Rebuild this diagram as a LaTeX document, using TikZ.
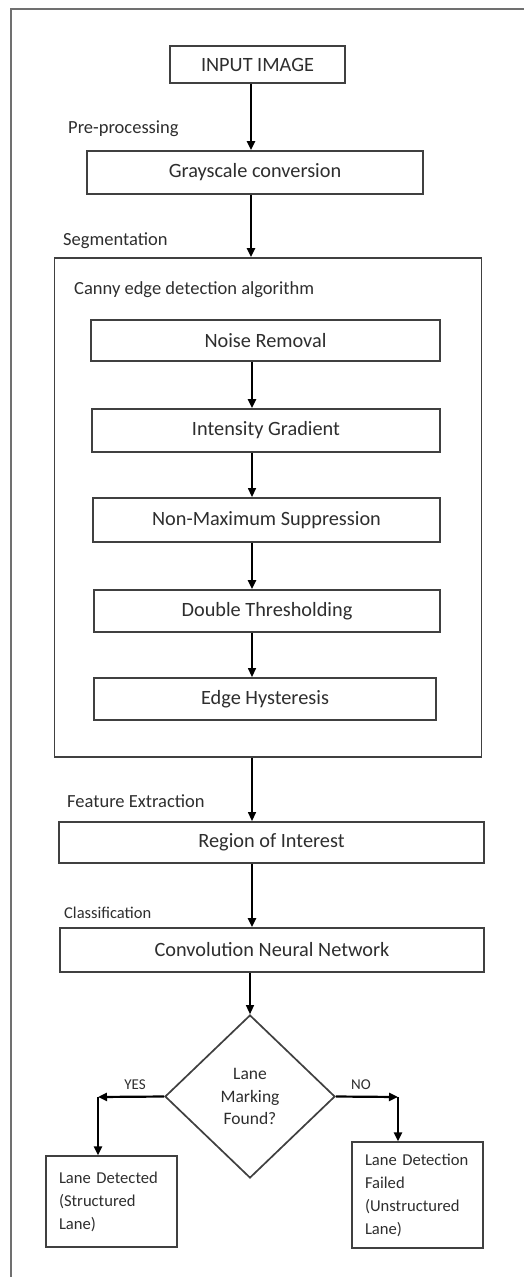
\documentclass[tikz,border=0pt]{standalone}
\usepackage{fontspec}
\setmainfont{Carlito}
\usetikzlibrary{arrows.meta,shapes.geometric}
\definecolor{boxc}{HTML}{404040}
\definecolor{txtc}{HTML}{2E2E2E}
\definecolor{framec}{HTML}{707070}
\begin{document}
\begin{tikzpicture}[x=1pt,y=-1pt,
  box/.style={draw=boxc, line width=1.8pt, inner sep=0pt, text=txtc, font=\fontsize{20.3}{24}\selectfont},
  smallbox/.style={draw=boxc, line width=1.1pt, inner xsep=13pt, inner ysep=0pt, text=txtc, align=left, font=\fontsize{16.6}{23}\selectfont},
  lbl/.style={anchor=west, inner sep=0pt, text=txtc, font=\fontsize{18.5}{21}\selectfont},
  thickarr/.style={line width=2.2pt, -{Triangle[length=9pt,width=8pt]}},
  thinarr/.style={line width=1.3pt, -{Triangle[length=9pt,width=8pt]}}
]
\useasboundingbox (0,0) rectangle (531,1277);
\fill[white] (0,0) rectangle (531,1277);
\draw[framec, line width=1.6pt] (11,1277) -- (11,9) -- (524,9);

\coordinate (ax) at (251,0);
\coordinate (bx) at (252,0);

\node[box, minimum width=175pt, minimum height=37pt] (inp) at (257.5,64.5) {INPUT IMAGE};
\node[lbl] (pre) at (68,129) {Pre-processing};
\node[box, minimum width=336pt, minimum height=43pt] (gray) at (255,172.5) {Grayscale conversion};
\node[lbl] (seg) at (63,241) {Segmentation};
\node[box, minimum width=427pt, minimum height=499pt] (canny) at (268,507.5) {};
\node[lbl] (cannyl) at (74,290) {Canny edge detection algorithm};
\node[box, minimum width=349pt, minimum height=41pt] (noise) at (265.5,340.5) {Noise Removal};
\node[box, minimum width=348pt, minimum height=43pt] (inten) at (266,430.5) {Intensity Gradient};
\node[box, minimum width=347pt, minimum height=44pt] (nms) at (266.5,520) {Non-Maximum Suppression};
\node[box, minimum width=346pt, minimum height=42pt] (dth) at (267,611) {Double Thresholding};
\node[box, minimum width=342pt, minimum height=42pt] (edge) at (265,699) {Edge Hysteresis};
\node[lbl] (feat) at (67,801) {Feature Extraction};
\node[box, minimum width=425pt, minimum height=41pt] (roi) at (271.5,842.5) {Region of Interest};
\node[lbl, font=\fontsize{16.5}{19}\selectfont] (cls) at (64,913) {Classification};
\node[box, minimum width=424pt, minimum height=44pt] (cnn) at (272,950) {Convolution Neural Network};
\node[diamond, draw=boxc, line width=1.7pt, inner sep=0pt, minimum width=170pt, minimum height=163pt, text=txtc, align=center, font=\fontsize{17.5}{22.5}\selectfont] (dia) at (250,1096.5) {Lane\\Marking\\Found?};
\node[smallbox, minimum width=131pt, minimum height=91pt, text width=105pt] (lbox) at (111.5,1201.5) {Lane Detected\\(Structured\\Lane)};
\node[smallbox, minimum width=131pt, minimum height=106pt, text width=105pt] (rbox) at (417.5,1195) {Lane Detection\\Failed\\(Unstructured\\Lane)};
\node[inner sep=0pt, text=txtc, font=\fontsize{15}{17}\selectfont] (yes) at (135,1085) {YES};
\node[inner sep=0pt, text=txtc, font=\fontsize{15}{17}\selectfont] (no) at (361,1085) {NO};

\coordinate (yc) at (98,1097);
\coordinate (nc) at (398,1097);

\draw[thickarr] (inp.south -| ax) -- (gray.north -| ax);
\draw[thickarr] (gray.south -| ax) -- (canny.north -| ax);
\draw[thickarr] (noise.south -| bx) -- (inten.north -| bx);
\draw[thinarr] (inten.south -| bx) -- (nms.north -| bx);
\draw[thickarr] (nms.south -| bx) -- (dth.north -| bx);
\draw[thinarr] (dth.south -| bx) -- (edge.north -| bx);
\draw[thinarr] (canny.south -| bx) -- (roi.north -| bx);
\draw[thickarr] (roi.south -| bx) -- (cnn.north -| bx);
\draw[thinarr] (cnn.south -| dia.north) -- (dia.north);
\draw[thickarr] (dia.west) -- (yc);
\draw[thickarr] (yc) -- (lbox.north -| yc);
\draw[thickarr] (dia.east) -- (nc);
\draw[thickarr] (nc) -- (rbox.north -| nc);
\end{tikzpicture}
\end{document}
